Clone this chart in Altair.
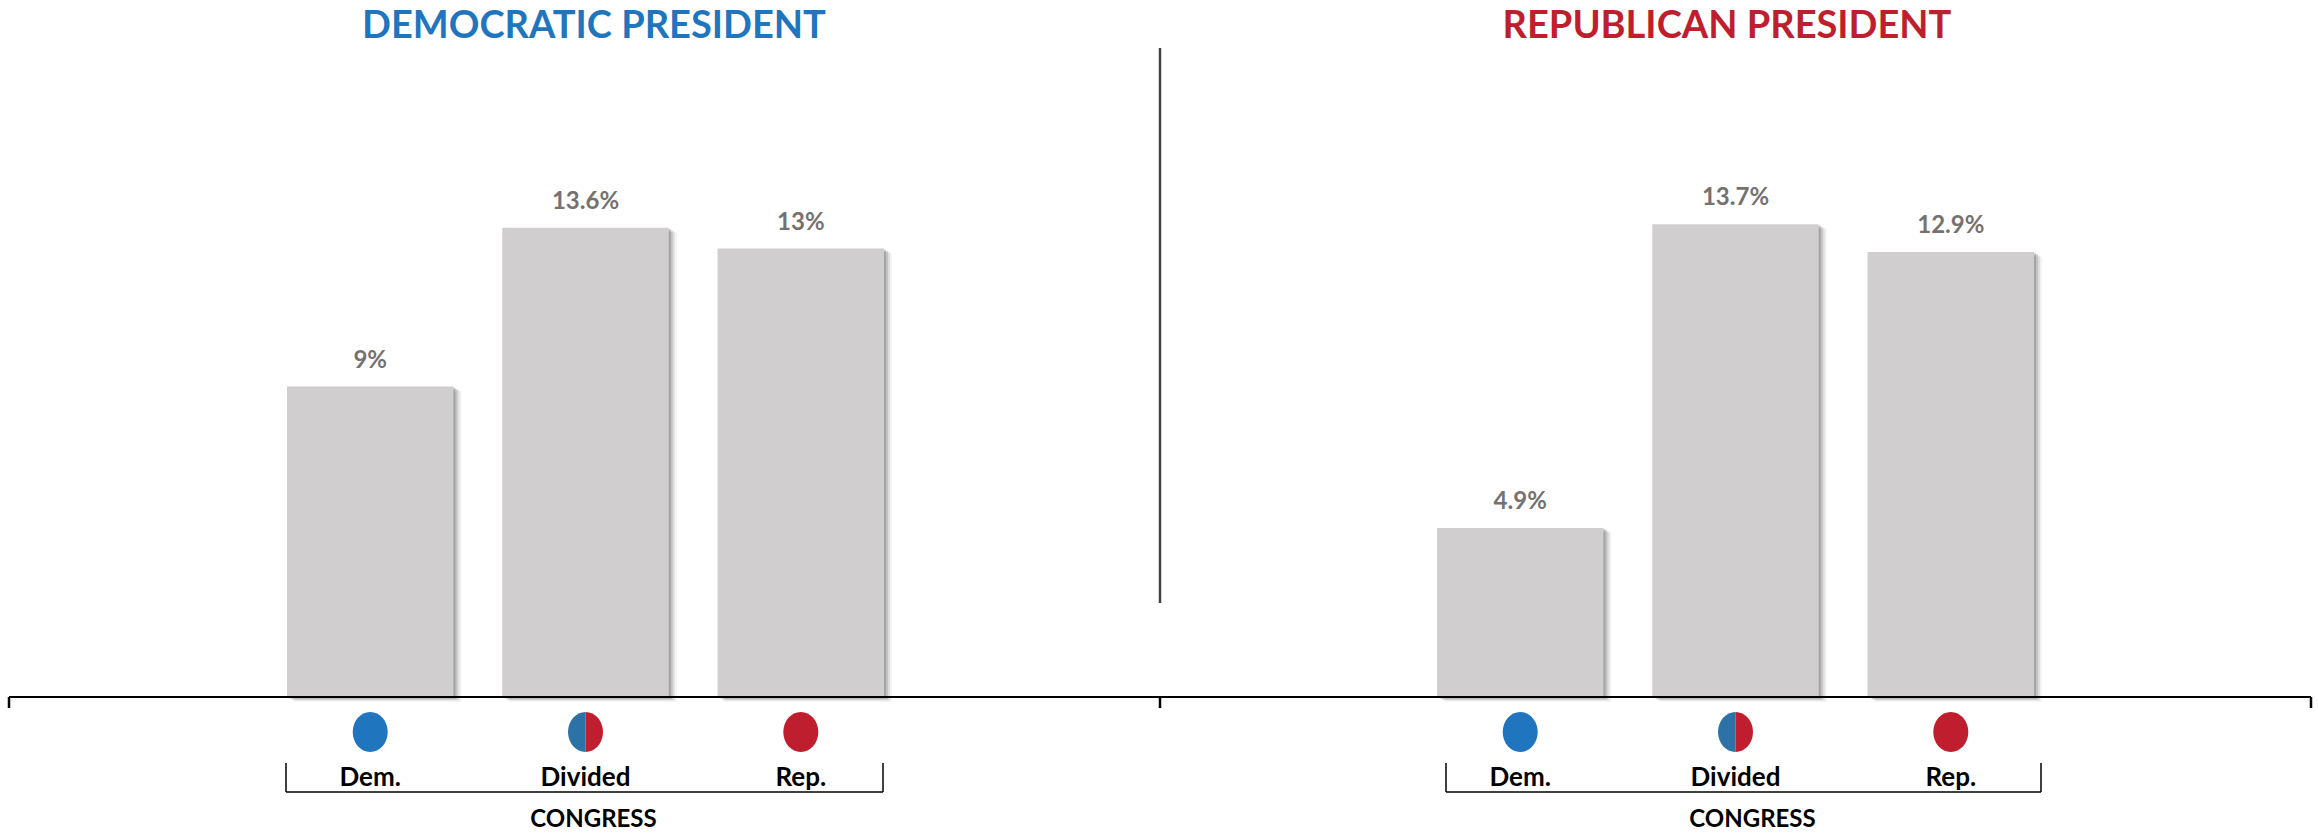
import altair as alt
import pandas as pd

# ---- data ----
categories = ["Dem.", "Divided", "Rep."]
dem_president_values = [9.0, 13.6, 13.0]
rep_president_values = [4.9, 13.7, 12.9]
dem_president_labels = ["9%", "13.6%", "13%"]
rep_president_labels = ["4.9%", "13.7%", "12.9%"]
panel_titles = ["DEMOCRATIC PRESIDENT", "REPUBLICAN PRESIDENT"]
group_label = "CONGRESS"

# ---- styles ----
BLUE = "#1F75BE"
BLUE_DIV = "#2C72A6"
RED = "#BE1E2D"
BAR = "#D0CECF"
LABEL_GRAY = "#767171"
FONT = "Lato"

ELLIPSE = "M0,-1 A0.875,1 0 1,1 0,1 A0.875,1 0 1,1 0,-1 Z"
HALF_LEFT = "M0,-1 A0.875,1 0 0,0 0,1 Z"
HALF_RIGHT = "M0,-1 A0.875,1 0 0,1 0,1 Z"

BASE_Y = 697
one = pd.DataFrame({"k": [0]})


def panel(values, labels, title, title_color, x_range, bracket, title_x):
    df = pd.DataFrame({"cat": categories, "val": values, "lab": labels})
    xenc = alt.X("cat:N", sort=categories, axis=None,
                 scale=alt.Scale(domain=categories, range=x_range,
                                 paddingInner=0.227, paddingOuter=0))
    yenc = alt.Y("val:Q", axis=None,
                 scale=alt.Scale(domain=[0, 20], range=[BASE_Y, 7]))
    base = alt.Chart(df)
    layers = []
    for off, op in [(8, 0.08), (6, 0.14), (4, 0.22), (2, 0.3)]:
        layers.append(base.mark_bar(color="#606060", opacity=op, xOffset=off,
                                    yOffset=off * 0.6)
                      .encode(x=xenc, y=yenc))
    layers.append(base.mark_bar(color=BAR).encode(x=xenc, y=yenc))
    layers.append(base.mark_text(dy=-19, baseline="alphabetic", font=FONT,
                                 fontWeight="bold", fontSize=24,
                                 color=LABEL_GRAY)
                  .encode(x=xenc, y=yenc, text="lab:N"))
    dots = pd.DataFrame({
        "cat": ["Dem.", "Divided", "Divided", "Rep."],
        "part": ["full", "left", "right", "full"],
        "col": [BLUE, BLUE_DIV, RED, RED],
    })
    layers.append(alt.Chart(dots).mark_point(filled=True, opacity=1, size=1600)
                  .encode(x=xenc, y=alt.value(732),
                          shape=alt.Shape("part:N", legend=None,
                                          scale=alt.Scale(domain=["full", "left", "right"],
                                                          range=[ELLIPSE, HALF_LEFT, HALF_RIGHT])),
                          color=alt.Color("col:N", scale=None)))
    layers.append(base.mark_text(font=FONT, fontWeight="bold", fontSize=26,
                                 color="#000000", baseline="middle")
                  .encode(x=xenc, y=alt.value(778), text="cat:N"))
    bx0, bx1 = bracket
    layers.append(alt.Chart(one).mark_rule(color="#000000", strokeWidth=1.5)
                  .encode(x=alt.value(bx0), x2=alt.value(bx1), y=alt.value(792)))
    for bx in (bx0, bx1):
        layers.append(alt.Chart(one).mark_rule(color="#000000", strokeWidth=1.5)
                      .encode(x=alt.value(bx), y=alt.value(763), y2=alt.value(792)))
    layers.append(alt.Chart(one).mark_text(text=group_label, font=FONT,
                                           fontWeight="bold", fontSize=24,
                                           color="#000000", baseline="middle")
                  .encode(x=alt.value((bx0 + bx1) / 2 + 9), y=alt.value(820)))
    layers.append(alt.Chart(one).mark_text(text=title, font=FONT,
                                           fontWeight="bold", fontSize=38,
                                           color=title_color, baseline="middle")
                  .encode(x=alt.value(title_x), y=alt.value(27)))
    return alt.layer(*layers)


left = panel(dem_president_values, dem_president_labels, panel_titles[0], BLUE,
             [287, 884], [286, 883], 594)
right = panel(rep_president_values, rep_president_labels, panel_titles[1], RED,
              [1437, 2034], [1446, 2041], 1727)

decor = []
decor.append(alt.Chart(one).mark_rule(color="#000000", strokeWidth=2)
             .encode(x=alt.value(9), x2=alt.value(2311), y=alt.value(BASE_Y)))
for tx in (9, 1160, 2311):
    decor.append(alt.Chart(one).mark_rule(color="#000000", strokeWidth=2.5)
                 .encode(x=alt.value(tx), y=alt.value(BASE_Y), y2=alt.value(708)))
decor.append(alt.Chart(one).mark_rule(color="#444444", strokeWidth=2.5)
             .encode(x=alt.value(1160), y=alt.value(48), y2=alt.value(603)))

chart = (alt.layer(left, right, *decor)
         .resolve_scale(x="independent", y="independent", shape="independent")
         .properties(width=2318, height=833, padding=0,
                     autosize=alt.AutoSizeParams(type="none"),
                     background="white")
         .configure_view(stroke=None))

chart.save("out.html", embed_options={"renderer": "svg", "actions": False})
